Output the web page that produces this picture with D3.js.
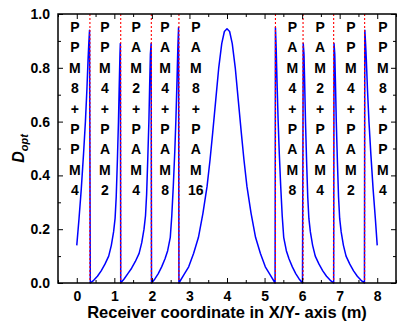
<!DOCTYPE html>
<html>
<head>
<meta charset="utf-8">
<script src="https://cdn.jsdelivr.net/npm/d3@7"></script>
<style>
  body { margin: 0; background: #fff; }
  text { font-family: Arial, "Liberation Sans", sans-serif; font-weight: bold; }
</style>
</head>
<body>
<div id="chart"></div>
<script>
// D_opt along the receiver line, one piece per modulation zone
const seg1 = [[0, 0.14], [0.06, 0.24], [0.12, 0.35], [0.18, 0.48], [0.23, 0.6], [0.27, 0.72], [0.3, 0.83], [0.32, 0.89], [0.34, 0.94]];
const seg2 = [[0.36, 0], [0.45, 0.01], [0.55, 0.025], [0.65, 0.045], [0.75, 0.07], [0.85, 0.1], [0.92, 0.14], [0.98, 0.19], [1.02, 0.24], [1.05, 0.32], [1.08, 0.45], [1.11, 0.6], [1.13, 0.73], [1.15, 0.85], [1.16, 0.89]];
const seg3 = [[1.17, 0], [1.26, 0.015], [1.36, 0.035], [1.46, 0.055], [1.56, 0.08], [1.66, 0.11], [1.73, 0.15], [1.79, 0.2], [1.83, 0.25], [1.86, 0.33], [1.89, 0.46], [1.92, 0.6], [1.94, 0.73], [1.96, 0.85], [1.98, 0.89]];
const seg4 = [[1.99, 0], [2.08, 0.015], [2.17, 0.035], [2.26, 0.06], [2.35, 0.09], [2.42, 0.12], [2.49, 0.17], [2.53, 0.25], [2.57, 0.36], [2.61, 0.49], [2.64, 0.61], [2.67, 0.76], [2.69, 0.87], [2.71, 0.95]];
const seg5 = [[2.72, 0], [2.85, 0.03], [2.98, 0.06], [3.11, 0.11], [3.24, 0.17], [3.36, 0.26], [3.47, 0.36], [3.55, 0.46], [3.62, 0.56], [3.7, 0.68], [3.78, 0.8], [3.86, 0.89], [3.93, 0.935], [4.0, 0.945], [4.07, 0.935], [4.14, 0.89], [4.22, 0.8], [4.3, 0.68], [4.38, 0.56], [4.45, 0.46], [4.53, 0.36], [4.64, 0.26], [4.76, 0.17], [4.89, 0.11], [5.02, 0.06], [5.15, 0.03], [5.28, 0]];
const seg6 = [[5.29, 0.95], [5.31, 0.87], [5.33, 0.76], [5.36, 0.61], [5.39, 0.49], [5.43, 0.36], [5.47, 0.25], [5.51, 0.17], [5.58, 0.12], [5.65, 0.09], [5.74, 0.06], [5.83, 0.035], [5.92, 0.015], [6.01, 0]];
const seg7 = [[6.03, 0.89], [6.05, 0.85], [6.07, 0.73], [6.09, 0.6], [6.12, 0.45], [6.15, 0.32], [6.18, 0.24], [6.22, 0.19], [6.28, 0.14], [6.35, 0.1], [6.45, 0.07], [6.55, 0.045], [6.65, 0.025], [6.75, 0.01], [6.84, 0]];
const seg8 = [[6.85, 0.89], [6.87, 0.85], [6.89, 0.73], [6.91, 0.6], [6.94, 0.45], [6.97, 0.32], [7.0, 0.24], [7.04, 0.19], [7.1, 0.14], [7.17, 0.1], [7.27, 0.07], [7.37, 0.045], [7.47, 0.025], [7.57, 0.01], [7.66, 0]];
const seg9 = [[7.67, 0.94], [7.69, 0.89], [7.71, 0.83], [7.74, 0.72], [7.78, 0.6], [7.83, 0.48], [7.89, 0.35], [7.95, 0.24], [8.0, 0.14]];

// zone borders (red dashed)
const borders = [0.35, 1.17, 1.985, 2.72, 5.29, 6.025, 6.84, 7.665];

// modulation labels, written one character per row
const zoneLabels = [
  ["P", "P", "M", "8", "+", "P", "P", "M", "4"],
  ["P", "P", "M", "4", "+", "P", "A", "M", "2"],
  ["P", "A", "M", "2", "+", "P", "A", "M", "4"],
  ["P", "A", "M", "4", "+", "P", "A", "M", "8"],
  ["P", "A", "M", "8", "+", "P", "A", "M", "16"],
  ["P", "A", "M", "4", "+", "P", "A", "M", "8"],
  ["P", "A", "M", "2", "+", "P", "A", "M", "4"],
  ["P", "P", "M", "4", "+", "P", "A", "M", "2"],
  ["P", "P", "M", "8", "+", "P", "P", "M", "4"]
];
const zoneLabelX = [-0.05, 0.75, 1.58, 2.35, 3.17, 5.74, 6.48, 7.3, 8.15];

const xTicks = [0, 1, 2, 3, 4, 5, 6, 7, 8];
const yTicks = [0, 0.2, 0.4, 0.6, 0.8, 1.0];

const width = 401;
const height = 322;
const margin = { top: 14, right: 5, bottom: 39, left: 58 };
const w = width - margin.left - margin.right;
const h = height - margin.top - margin.bottom;

const svg = d3.select("#chart").append("svg")
  .attr("width", width)
  .attr("height", height);

const g = svg.append("g").attr("transform", `translate(${margin.left},${margin.top})`);

const x = d3.scaleLinear().domain([-0.5, 8.5]).range([0, w]);
const y = d3.scaleLinear().domain([0, 1.0]).range([h, 0]);

const allPoints = [].concat(seg1, seg2, seg3, seg4, seg5, seg6, seg7, seg8, seg9);

const line = d3.line()
  .x((d) => x(d[0]))
  .y((d) => y(d[1]));

g.append("path")
  .datum(allPoints)
  .attr("fill", "none")
  .attr("stroke", "#0000ff")
  .attr("stroke-width", 1.5)
  .attr("stroke-linejoin", "round")
  .attr("d", line);

g.selectAll(".border")
  .data(borders)
  .join("line")
  .attr("class", "border")
  .attr("x1", (d) => x(d))
  .attr("x2", (d) => x(d))
  .attr("y1", 0)
  .attr("y2", h)
  .attr("stroke", "#ff0000")
  .attr("stroke-width", 1.1)
  .attr("stroke-dasharray", "2,2");

// labels
zoneLabels.forEach((chars, i) => {
  g.selectAll(null)
    .data(chars)
    .join("text")
    .attr("x", x(zoneLabelX[i]))
    .attr("y", (d, j) => y(0.952 - j * 0.0758))
    .attr("dy", "0.36em")
    .attr("text-anchor", "middle")
    .style("font-size", "14px")
    .style("fill", "#000")
    .text((d) => d);
});

// axes, ticks inward on all four sides
const minorX = d3.range(-0.5, 8.51, 0.5).filter((v) => !xTicks.includes(v));
const minorY = d3.range(0.1, 1.0, 0.2);

function tickAxis(axisFn, scale, major, minor, transform, showLabels) {
  const a = g.append("g").attr("transform", transform);
  a.call(axisFn(scale).tickValues(minor).tickSize(-3).tickFormat(""));
  const b = g.append("g").attr("transform", transform);
  b.call(axisFn(scale).tickValues(major).tickSize(-5).tickPadding(8)
    .tickFormat(showLabels ? (axisFn === d3.axisLeft ? d3.format(".1f") : d3.format("d")) : ""));
  [a, b].forEach((s) => {
    s.select(".domain").remove();
    s.selectAll(".tick line").attr("stroke", "#000").attr("stroke-width", 1);
    s.selectAll("text").style("font-size", "14px").style("font-family", "Arial, 'Liberation Sans', sans-serif").style("font-weight", "bold");
  });
  return b;
}

tickAxis(d3.axisBottom, x, xTicks, minorX, `translate(0,${h})`, true);
tickAxis(d3.axisTop, x, xTicks, minorX, "translate(0,0)", false);
tickAxis(d3.axisLeft, y, yTicks, minorY, "translate(0,0)", true);
tickAxis(d3.axisRight, y, yTicks, minorY, `translate(${w},0)`, false);

g.append("rect")
  .attr("width", w)
  .attr("height", h)
  .attr("fill", "none")
  .attr("stroke", "#000")
  .attr("stroke-width", 1.5);

// titles
svg.append("text")
  .attr("x", 227)
  .attr("y", height - 4)
  .attr("text-anchor", "middle")
  .style("font-size", "16.5px")
  .text("Receiver coordinate in X/Y- axis (m)");

const yLab = svg.append("text")
  .attr("transform", `translate(24,${margin.top + h / 2}) rotate(-90)`)
  .attr("text-anchor", "middle")
  .style("font-size", "16px")
  .style("font-style", "italic");
yLab.append("tspan").text("D");
yLab.append("tspan").attr("dy", 4).style("font-size", "11px").text("opt");
</script>
</body>
</html>
